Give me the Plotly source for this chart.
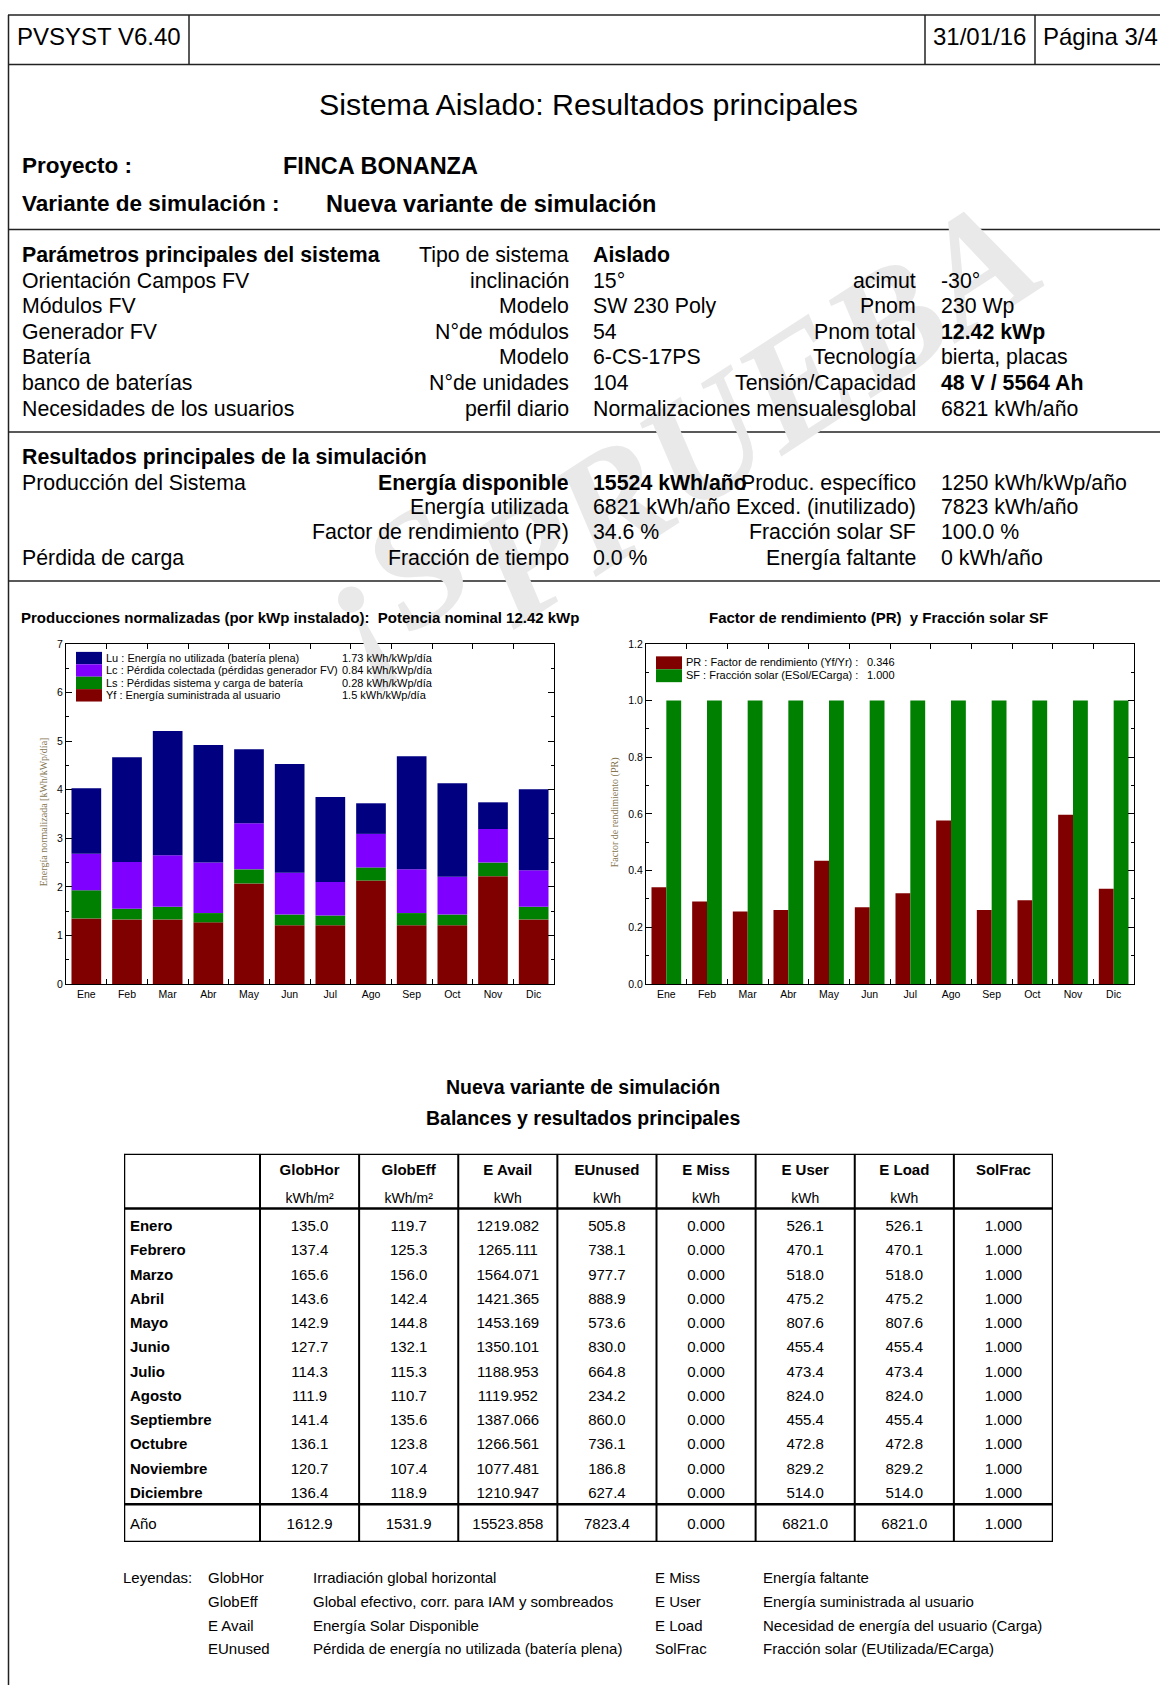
import numpy as np
import plotly.graph_objects as go

W, H = 1160, 1691
SANS = "Liberation Sans, Arial, sans-serif"
SERIF = "Liberation Serif, Times New Roman, serif"

# ---------------- data ----------------
months_short = ["Ene", "Feb", "Mar", "Abr", "May", "Jun", "Jul", "Ago", "Sep", "Oct", "Nov", "Dic"]
months_full = ["Enero", "Febrero", "Marzo", "Abril", "Mayo", "Junio", "Julio", "Agosto",
               "Septiembre", "Octubre", "Noviembre", "Diciembre"]

# normalized productions (kWh/kWp/day), stacked
yf = [1.35, 1.33, 1.33, 1.27, 2.07, 1.21, 1.21, 2.13, 1.21, 1.21, 2.22, 1.33]
ls = [0.58, 0.22, 0.26, 0.19, 0.29, 0.22, 0.20, 0.27, 0.25, 0.22, 0.28, 0.26]
lc = [0.75, 0.96, 1.06, 1.04, 0.95, 0.86, 0.69, 0.69, 0.90, 0.78, 0.69, 0.75]
lu = [1.35, 2.16, 2.56, 2.42, 1.52, 2.24, 1.75, 0.63, 2.33, 1.92, 0.55, 1.67]
prod_legend = ["Lu : Energía no utilizada (batería plena)",
               "Lc : Pérdida colectada (pérdidas generador FV)",
               "Ls : Pérdidas sistema y carga de batería",
               "Yf : Energía suministrada al usuario"]
prod_legend_vals = ["1.73 kWh/kWp/día", "0.84 kWh/kWp/día", "0.28 kWh/kWp/día", "1.5 kWh/kWp/día"]

# performance ratio and solar fraction
pr = [0.341, 0.291, 0.256, 0.261, 0.435, 0.271, 0.320, 0.577, 0.261, 0.296, 0.597, 0.336]
sf = [1.0, 1.0, 1.0, 1.0, 1.0, 1.0, 1.0, 1.0, 1.0, 1.0, 1.0, 1.0]
pr_legend = ["PR : Factor de rendimiento (Yf/Yr) :", "SF : Fracción solar (ESol/ECarga) :"]
pr_legend_vals = ["0.346", "1.000"]

# balances table
table_cols = ["GlobHor", "GlobEff", "E Avail", "EUnused", "E Miss", "E User", "E Load", "SolFrac"]
table_units = ["kWh/m²", "kWh/m²", "kWh", "kWh", "kWh", "kWh", "kWh", ""]
table_fmt = ["{:.1f}", "{:.1f}", "{:.3f}", "{:.1f}", "{:.3f}", "{:.1f}", "{:.1f}", "{:.3f}"]
globhor = [135.0, 137.4, 165.6, 143.6, 142.9, 127.7, 114.3, 111.9, 141.4, 136.1, 120.7, 136.4]
globeff = [119.7, 125.3, 156.0, 142.4, 144.8, 132.1, 115.3, 110.7, 135.6, 123.8, 107.4, 118.9]
eavail = [1219.082, 1265.111, 1564.071, 1421.365, 1453.169, 1350.101, 1188.953, 1119.952,
          1387.066, 1266.561, 1077.481, 1210.947]
eunused = [505.8, 738.1, 977.7, 888.9, 573.6, 830.0, 664.8, 234.2, 860.0, 736.1, 186.8, 627.4]
emiss = [0.000, 0.000, 0.000, 0.000, 0.000, 0.000, 0.000, 0.000, 0.000, 0.000, 0.000, 0.000]
euser = [526.1, 470.1, 518.0, 475.2, 807.6, 455.4, 473.4, 824.0, 455.4, 472.8, 829.2, 514.0]
eload = [526.1, 470.1, 518.0, 475.2, 807.6, 455.4, 473.4, 824.0, 455.4, 472.8, 829.2, 514.0]
solfrac = [1.000, 1.000, 1.000, 1.000, 1.000, 1.000, 1.000, 1.000, 1.000, 1.000, 1.000, 1.000]
year_row = [1612.9, 1531.9, 15523.858, 7823.4, 0.000, 6821.0, 6821.0, 1.000]
year_label = "Año"

legend_keys_l = ["GlobHor", "GlobEff", "E Avail", "EUnused"]
legend_desc_l = ["Irradiación global horizontal", "Global efectivo, corr. para IAM y sombreados",
                 "Energía Solar Disponible", "Pérdida de energía no utilizada (batería plena)"]
legend_keys_r = ["E Miss", "E User", "E Load", "SolFrac"]
legend_desc_r = ["Energía faltante", "Energía suministrada al usuario",
                 "Necesidad de energía del usuario (Carga)", "Fracción solar (EUtilizada/ECarga)"]

params = [
    ("Parámetros principales del sistema", "Tipo de sistema", "Aislado", "", ""),
    ("Orientación Campos FV", "inclinación", "15°", "acimut", "-30°"),
    ("Módulos FV", "Modelo", "SW 230 Poly", "Pnom", "230 Wp"),
    ("Generador FV", "N°de módulos", "54", "Pnom total", "12.42 kWp"),
    ("Batería", "Modelo", "6-CS-17PS", "Tecnología", "bierta, placas"),
    ("banco de baterías", "N°de unidades", "104", "Tensión/Capacidad", "48 V / 5564 Ah"),
    ("Necesidades de los usuarios", "perfil diario", "Normalizaciones mensualesglobal", "", "6821 kWh/año"),
]
results = [
    ("Resultados principales de la simulación", "", "", "", ""),
    ("Producción del Sistema", "Energía disponible", "15524 kWh/año", "Produc. específico", "1250 kWh/kWp/año"),
    ("", "Energía utilizada", "6821 kWh/año", "Exced. (inutilizado)", "7823 kWh/año"),
    ("", "Factor de rendimiento (PR)", "34.6 %", "Fracción solar SF", "100.0 %"),
    ("Pérdida de carga", "Fracción de tiempo", "0.0 %", "Energía faltante", "0 kWh/año"),
]

# ---------------- figure ----------------
fig = go.Figure()

def X(x):
    return x / W

def Y(y):
    return 1 - y / H

annotations = []
shapes = []

def txt(x, y, s, size, anchor="left", bold=False, color="black", family=SANS, angle=0):
    annotations.append(dict(x=X(x), y=Y(y), xref="paper", yref="paper", text=s, showarrow=False,
                            xanchor=anchor, yanchor="middle", textangle=angle,
                            font=dict(size=size, family=family, color=color,
                                      weight="bold" if bold else "normal")))

def hline(x0, x1, y, w=1.5, color="#222"):
    shapes.append(dict(type="line", xref="paper", yref="paper", x0=X(x0), x1=X(x1), y0=Y(y), y1=Y(y),
                       line=dict(color=color, width=w)))

def vline(x, y0, y1, w=1.5, color="#222"):
    shapes.append(dict(type="line", xref="paper", yref="paper", x0=X(x), x1=X(x), y0=Y(y0), y1=Y(y1),
                       line=dict(color=color, width=w)))

# watermark (drawn first, below the other texts)
WM = dict(size=160, family=SERIF, color="#e9e9e9", weight="bold", style="italic")
annotations.append(dict(x=X(390), y=Y(582), xref="paper", yref="paper", text="¡S", showarrow=False,
                        xanchor="center", yanchor="middle", textangle=-33, font=WM))
annotations.append(dict(x=X(752), y=Y(408), xref="paper", yref="paper", text="PRUEBA", showarrow=False,
                        xanchor="center", yanchor="middle", textangle=-33, font=WM))

# page frame
vline(8.5, 9, H)
hline(8, W, 9)
hline(8, W, 59)
for xv in [189, 925, 1035]:
    vline(xv, 9, 59)
hline(8, W, 225)
hline(8, W, 429)
hline(8, W, 579)

# header
txt(15, 31, "PVSYST V6.40", 24)
txt(931, 31, "31/01/16", 24)
txt(1041, 31, "Página 3/4", 24)
txt(588, 99, "Sistema Aislado: Resultados principales", 30.4, anchor="center")
txt(20, 161, "Proyecto :", 22.5, bold=True)
txt(281, 161, "FINCA BONANZA", 23.5, bold=True)
txt(20, 199, "Variante de simulación :", 22.5, bold=True)
txt(324, 199, "Nueva variante de simulación", 23.5, bold=True)

# parameter blocks
PS = 21.3
param_rows = [251, 277, 302, 328, 354, 380, 406]
bold_cells = {(0, 0), (0, 2), (3, 4), (5, 4)}
for i, (row, yv) in enumerate(zip(params, param_rows)):
    a, b, c, d, e = row
    txt(20, yv, a, PS, bold=(i, 0) in bold_cells)
    txt(571, yv, b, PS, anchor="right")
    txt(591, yv, c, PS, bold=(i, 2) in bold_cells)
    txt(918, yv, d, PS, anchor="right")
    txt(939, yv, e, PS, bold=(i, 4) in bold_cells)

res_rows = [454, 480, 505, 530, 556]
for i, (row, yv) in enumerate(zip(results, res_rows)):
    a, b, c, d, e = row
    txt(20, yv, a, PS, bold=(i == 0))
    txt(571, yv, b, PS, anchor="right", bold=(i == 1))
    txt(591, yv, c, PS, bold=(i == 1))
    txt(918, yv, d, PS, anchor="right")
    txt(939, yv, e, PS)

# chart titles
txt(19, 616, "Producciones normalizadas (por kWp instalado):  Potencia nominal 12.42 kWp", 15, bold=True)
txt(878, 616, "Factor de rendimiento (PR)  y Fracción solar SF", 15, anchor="center", bold=True)
txt(43, 812, "Energía normalizada [kWh/kWp/día]", 10, anchor="center", family=SERIF, color="#857652", angle=-90)
txt(615, 812, "Factor de rendimiento (PR)", 10, anchor="center", family=SERIF, color="#857652", angle=-90)

# ---- left chart: stacked normalized productions ----
yf_a, ls_a, lc_a, lu_a = map(np.array, (yf, ls, lc, lu))
stack = [
    ("Yf", yf_a, np.zeros(12), "#800000"),
    ("Ls", ls_a, yf_a, "#008000"),
    ("Lc", lc_a, yf_a + ls_a, "#8000FF"),
    ("Lu", lu_a, yf_a + ls_a + lc_a, "#000080"),
]
for name, vals, base, col in stack:
    fig.add_trace(go.Bar(x=months_short, y=vals, base=base, name=name, marker_color=col,
                         marker_line_width=0, offsetgroup="L", xaxis="x", yaxis="y",
                         showlegend=False, hoverinfo="skip"))

# legend for left chart
leg_cols = ["#000080", "#8000FF", "#008000", "#800000"]
box_top = 650.5
for k, (lab, val, col) in enumerate(zip(prod_legend, prod_legend_vals, leg_cols)):
    y0 = box_top + k * 12.5
    shapes.append(dict(type="rect", xref="paper", yref="paper", x0=X(76), x1=X(102), y0=Y(y0), y1=Y(y0 + 12.5),
                       fillcolor=col, line=dict(width=0)))
    txt(104, y0 + 6, lab, 11)
    txt(340, y0 + 6, val, 11)

# ---- right chart: PR and SF ----
fig.add_trace(go.Bar(x=months_short, y=pr, name="PR", marker_color="#800000", marker_line_width=0,
                     offsetgroup="pr", xaxis="x2", yaxis="y2", showlegend=False, hoverinfo="skip"))
fig.add_trace(go.Bar(x=months_short, y=sf, name="SF", marker_color="#008000", marker_line_width=0,
                     offsetgroup="sf", xaxis="x2", yaxis="y2", showlegend=False, hoverinfo="skip"))
for k, (lab, val, col) in enumerate(zip(pr_legend, pr_legend_vals, ["#800000", "#008000"])):
    y0 = 655 + k * 13
    shapes.append(dict(type="rect", xref="paper", yref="paper", x0=X(656), x1=X(682), y0=Y(y0), y1=Y(y0 + 13),
                       fillcolor=col, line=dict(width=0)))
    txt(684, y0 + 6, lab, 11)
    txt(865, y0 + 6, val, 11)

# ---- table ----
txt(583, 1089, "Nueva variante de simulación", 19.5, anchor="center", bold=True)
txt(583, 1120, "Balances y resultados principales", 19.5, anchor="center", bold=True)

T_TOP, T_HEAD, T_SEP, T_BOT = 1156, 1211, 1509, 1547
X_LEFT = -1.872
row_y0, row_dy = 1230, 24.45
month_y = [row_y0 + i * row_dy for i in range(12)]
year_y = 1530
cols_data = [globhor, globeff, eavail, eunused, emiss, euser, eload, solfrac]

fig.add_trace(go.Scatter(x=[X_LEFT + 0.06] * 12, y=month_y, mode="text",
                         text=["<b>%s</b>" % m for m in months_full], textposition="middle right",
                         textfont=dict(size=15, family=SANS, color="black"),
                         xaxis="x3", yaxis="y3", showlegend=False, hoverinfo="skip", cliponaxis=False))
fig.add_trace(go.Scatter(x=[X_LEFT + 0.06], y=[year_y], mode="text", text=[year_label],
                         textposition="middle right", textfont=dict(size=15, family=SANS, color="black"),
                         xaxis="x3", yaxis="y3", showlegend=False, hoverinfo="skip", cliponaxis=False))
for j, (cname, unit, fmt, vals) in enumerate(zip(table_cols, table_units, table_fmt, cols_data)):
    fig.add_trace(go.Scatter(x=[j, j], y=[1174, 1202], mode="text",
                             text=["<b>%s</b>" % cname, unit], textposition="middle center",
                             textfont=dict(size=[15, 14], family=SANS, color="black"),
                             xaxis="x3", yaxis="y3", showlegend=False, hoverinfo="skip", cliponaxis=False))
    fig.add_trace(go.Scatter(x=[j] * 13, y=month_y + [year_y], mode="text",
                             text=[fmt.format(v) for v in vals] + [fmt.format(year_row[j])],
                             textposition="middle center",
                             textfont=dict(size=15, family=SANS, color="black"),
                             xaxis="x3", yaxis="y3", showlegend=False, hoverinfo="skip", cliponaxis=False))

def tline(x0, x1, y0, y1, w):
    shapes.append(dict(type="line", xref="x3", yref="y3", x0=x0, x1=x1, y0=y0, y1=y1,
                       line=dict(color="black", width=w)))

tline(X_LEFT, 7.5, T_TOP, T_TOP, 2.5)
tline(X_LEFT, 7.5, T_BOT, T_BOT, 2.5)
tline(X_LEFT, X_LEFT, T_TOP, T_BOT, 2.5)
tline(7.5, 7.5, T_TOP, T_BOT, 2.5)
tline(X_LEFT, 7.5, T_HEAD, T_HEAD, 2.5)
tline(X_LEFT, 7.5, T_SEP, T_SEP, 2.5)
for j in range(8):
    tline(j - 0.5, j - 0.5, T_TOP, T_BOT, 2)

# legends under table
leg_rows = [1583, 1607, 1631, 1654]
txt(121, leg_rows[0], "Leyendas:", 15)
for yv, k1, d1, k2, d2 in zip(leg_rows, legend_keys_l, legend_desc_l, legend_keys_r, legend_desc_r):
    txt(206, yv, k1, 15)
    txt(311, yv, d1, 15)
    txt(653, yv, k2, 15)
    txt(761, yv, d2, 15)

# ---------------- layout ----------------
ax = dict(showline=True, linecolor="black", linewidth=1.2, mirror="ticks", ticks="inside",
          tickcolor="black", tickwidth=1, showgrid=False, zeroline=False, fixedrange=True,
          tickfont=dict(size=10.5, family=SANS, color="black"))
ydom = [Y(985), Y(642.5)]

fig.update_layout(
    width=W, height=H, margin=dict(l=0, r=0, t=0, b=0),
    paper_bgcolor="white", plot_bgcolor="white",
    barmode="group", bargap=0.27, bargroupgap=0,
    showlegend=False, hovermode=False,
    font=dict(family=SANS, color="black"),
    xaxis=dict(ax, domain=[X(66), X(554)], anchor="y", type="category", tickson="boundaries",
               ticklen=5, range=[-0.5, 11.5]),
    yaxis=dict(ax, domain=ydom, anchor="x", range=[0, 7], dtick=1, ticklen=6,
               minor=dict(ticks="inside", ticklen=3, dtick=0.5, tickcolor="black")),
    xaxis2=dict(ax, domain=[X(646), X(1134)], anchor="y2", type="category", tickson="boundaries",
                ticklen=5, range=[-0.5, 11.5]),
    yaxis2=dict(ax, domain=ydom, anchor="x2", range=[0, 1.2], dtick=0.2, tickformat=".1f", ticklen=6,
                minor=dict(ticks="inside", ticklen=3, dtick=0.1, tickcolor="black")),
    xaxis3=dict(domain=[X(124), X(1053)], anchor="y3", range=[X_LEFT, 7.5], visible=False, fixedrange=True),
    yaxis3=dict(domain=[Y(T_BOT), Y(T_TOP)], anchor="x3", range=[T_BOT, T_TOP], visible=False, fixedrange=True),
    annotations=annotations,
    shapes=shapes,
)

fig.write_html("out.html", config={"displayModeBar": False},
               post_script="document.body.style.margin='0px';")
